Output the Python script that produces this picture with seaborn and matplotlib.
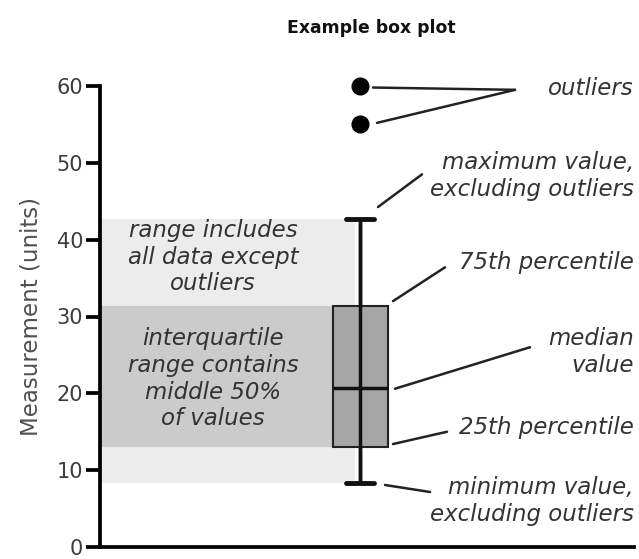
import numpy as np
import pandas as pd
import matplotlib
matplotlib.use("Agg")
import matplotlib.pyplot as plt
import seaborn as sns

# ---- data ----
measurements = [8.3, 10.5, 12.0, 13.0, 16.0, 18.5, 20.7, 25.0, 29.0, 31.4, 42.7, 55.0, 60.0]
group = ["Example"] * len(measurements)
yticks = [0, 10, 20, 30, 40, 50, 60]
title = "Example box plot"
ylabel = "Measurement (units)"
whis_factor = 0.7

df = pd.DataFrame({"group": group, "value": measurements})

sns.set_theme(style="white")
plt.rcParams["font.family"] = ["DejaVu Sans"]

fig = plt.figure(figsize=(6.39, 5.59), dpi=100)
ax = fig.add_axes([100 / 639, 1 - 547 / 559, 534 / 639, (547 - 86) / 559])

# statistics from the data
q1, med, q3 = np.percentile(measurements, [25, 50, 75])
iqr = q3 - q1
arr = np.array(measurements)
wlo = arr[arr >= q1 - whis_factor * iqr].min()
whi = arr[arr <= q3 + whis_factor * iqr].max()

xmin_data, xmax_data = -2.60, 2.74
box_w = 0.55

# shaded bands
ax.fill_between([xmin_data, -0.05], wlo, whi, color="#ececec", zorder=0, lw=0)
ax.fill_between([xmin_data, -box_w / 2], q1, q3, color="#cbcbcb", zorder=0.5, lw=0)

sns.boxplot(data=df, x="group", y="value", ax=ax, whis=whis_factor, width=box_w,
            color="#a6a6a6", saturation=1, linecolor="black", linewidth=1.5,
            boxprops=dict(facecolor="#a6a6a6", edgecolor="#222222", linewidth=1.5, zorder=2),
            medianprops=dict(color="#111111", linewidth=2.5, zorder=4),
            whiskerprops=dict(color="#111111", linewidth=2.5),
            capprops=dict(color="#111111", linewidth=3.5),
            flierprops=dict(marker="o", markerfacecolor="black", markeredgecolor="black",
                            markersize=12))
# whisker line through the box
ax.vlines(0, wlo, whi, color="#111111", lw=2.5, zorder=3)

ax.set_xlim(xmin_data, xmax_data)
ax.set_ylim(0, 60)
ax.set_yticks(yticks)
ax.set_xticks([])
ax.set_xlabel("")
ax.set_ylabel(ylabel, fontsize=16.5, color="#505050", labelpad=10)
for s in ["top", "right"]:
    ax.spines[s].set_visible(False)
for s in ["left", "bottom"]:
    ax.spines[s].set_linewidth(2.7)
    ax.spines[s].set_color("black")
ax.tick_params(axis="y", direction="out", length=10, width=2.7, color="black",
               labelsize=15, labelcolor="#3c3c3c", left=True, pad=2)
for coll in ax.collections:
    coll.set_clip_on(False)
for ln in ax.lines:
    ln.set_clip_on(False)

fig.text(371 / 639, 1 - 28 / 559, title, ha="center", va="center",
         fontsize=12.4, fontweight="bold", color="#111111")

tkw = dict(fontsize=16.5, style="italic", color="#333333", clip_on=False)
lkw = dict(color="#222222", lw=1.8, clip_on=False)
ls = 1.2

# left annotations
ax.text(-1.47, 37.7, "range includes\nall data except\noutliers", ha="center", va="center",
        linespacing=ls, **tkw)
ax.text(-1.47, 21.9, "interquartile\nrange contains\nmiddle 50%\nof values", ha="center",
        va="center", linespacing=ls, **tkw)

# right annotations
ax.text(2.74, 59.7, "outliers", ha="right", va="center", **tkw)
ax.plot([0.13, 1.55], [59.8, 59.5], **lkw)
ax.plot([0.17, 1.55], [55.2, 59.5], **lkw)

ax.text(2.74, 48.3, "maximum value,\nexcluding outliers", ha="right", va="center",
        linespacing=ls, **tkw)
ax.plot([0.18, 0.62], [44.25, 48.5], **lkw)

ax.text(2.74, 37.0, "75th percentile", ha="right", va="center", **tkw)
ax.plot([0.33, 0.85], [32.0, 36.4], **lkw)

ax.text(2.74, 25.4, "median\nvalue", ha="right", va="center", linespacing=ls, **tkw)
ax.plot([0.35, 1.70], [20.6, 26.0], **lkw)

ax.text(2.74, 15.6, "25th percentile", ha="right", va="center", **tkw)
ax.plot([0.33, 0.87], [13.4, 15.0], **lkw)

ax.text(2.74, 6.0, "minimum value,\nexcluding outliers", ha="right", va="center",
        linespacing=ls, **tkw)
ax.plot([0.25, 0.70], [8.07, 7.16], **lkw)

fig.savefig("out.png", dpi=100)
